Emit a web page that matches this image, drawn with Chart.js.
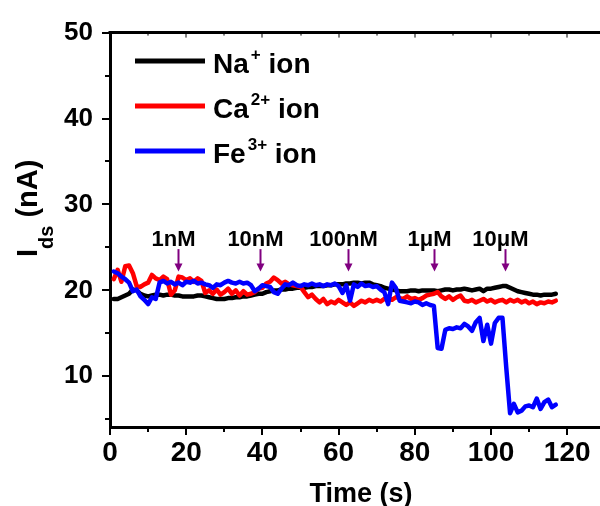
<!DOCTYPE html>
<html>
<head>
<meta charset="utf-8">
<script src="https://cdn.jsdelivr.net/npm/chart.js@4.4.0/dist/chart.umd.min.js"></script>
<style>
html, body { margin: 0; padding: 0; background: #fff; }
#wrap { width: 600px; height: 506px; }
</style>
</head>
<body>
<div id="wrap"><canvas id="ionChart" width="600" height="506"></canvas></div>
<script>
// time axis (s)
var TIME = [1,2,3,4,5,6,7,8,9,10,11,12,13,14,15,16,17,18,19,20,
  21,22,23,24,25,26,27,28,29,30,31,32,33,34,35,36,37,38,39,40,
  41,42,43,44,45,46,47,48,49,50,51,52,53,54,55,56,57,58,59,60,
  61,62,63,64,65,66,67,68,69,70,71,72,73,74,75,76,77,78,79,80,
  81,82,83,84,85,86,87,88,89,90,91,92,93,94,95,96,97,98,99,100,
  101,102,103,104,105,106,107,108,109,110,111,112,113,114,115,116,117];

// Ids (nA) for each ion
var NA_ION = [19.0,19.0,19.2,19.4,19.6,20.1,20.0,19.6,19.4,19.3,19.4,19.5,19.5,19.4,19.5,19.5,19.4,19.4,19.3,19.3,
  19.3,19.3,19.4,19.4,19.3,19.2,19.1,19.0,19.0,19.0,19.1,19.1,19.2,19.2,19.3,19.3,19.4,19.5,19.6,19.6,
  19.8,19.9,20.0,20.0,20.1,20.1,20.2,20.2,20.3,20.3,20.3,20.4,20.4,20.5,20.5,20.5,20.6,20.6,20.7,20.7,
  20.7,20.8,20.8,20.9,20.9,20.8,20.9,20.9,20.7,20.6,20.5,20.3,20.2,20.1,20.0,19.9,19.9,19.9,20.0,20.0,
  19.9,20.0,20.0,20.0,20.0,19.9,20.0,20.1,20.1,20.0,20.1,20.1,20.2,20.1,20.0,20.1,20.2,19.9,20.2,20.2,
  20.3,20.4,20.5,20.5,20.3,20.1,19.9,19.8,19.7,19.6,19.5,19.5,19.4,19.5,19.5,19.5,19.6];

var CA_ION = [21.3,22.4,21.0,22.8,22.9,22.0,20.5,20.4,20.7,20.9,21.8,21.4,21.2,21.6,21.3,19.5,20.0,21.6,21.5,21.2,
  21.4,21.0,21.4,21.1,19.7,20.0,19.6,20.1,19.5,19.8,20.2,19.6,20.0,19.4,19.9,19.5,19.6,19.8,20.2,20.3,
  20.8,21.0,21.5,21.2,20.8,21.0,20.7,20.6,20.5,20.4,19.8,19.2,19.5,19.0,18.6,19.0,18.4,18.7,18.5,18.9,
  18.6,18.3,18.6,18.2,18.5,18.8,18.6,18.9,18.7,18.9,18.7,19.0,19.1,18.9,19.2,19.1,19.0,19.3,19.0,19.1,
  18.9,19.1,19.4,19.5,19.6,19.8,19.3,19.0,19.3,18.9,19.2,19.4,18.8,18.7,18.9,18.6,18.8,19.0,18.7,18.9,
  18.6,18.8,18.9,18.6,18.9,18.7,18.9,18.6,18.8,18.5,18.7,18.4,18.6,18.5,18.7,18.6,18.8];

var FE_ION = [22.2,22.0,21.6,21.3,20.9,19.9,20.1,19.3,18.9,18.4,19.2,19.0,20.9,21.1,20.8,21.0,20.7,20.9,20.6,21.0,
  20.9,21.1,20.8,20.9,20.7,20.6,20.3,20.7,20.6,20.9,21.1,20.9,20.8,21.0,20.8,20.9,20.6,19.9,20.2,20.6,
  20.5,20.4,19.8,19.6,20.2,20.7,20.6,20.9,20.6,20.5,20.7,20.6,20.8,20.6,20.7,20.5,20.7,20.6,20.8,20.5,
  19.7,20.6,18.8,20.7,20.4,20.8,20.5,20.6,20.4,20.5,20.1,19.8,18.4,20.9,20.3,18.8,18.7,18.6,18.5,18.7,
  18.6,18.3,18.5,18.3,18.2,13.3,13.2,15.4,15.6,15.5,15.7,15.6,16.1,15.8,15.3,16.3,16.8,14.1,16.0,13.8,
  16.2,16.8,16.8,11.0,5.7,6.8,5.8,6.0,6.5,6.6,6.4,7.4,6.2,7.0,7.3,6.4,6.7];

var SERIES_NAMES = ['Na', 'Ca', 'Fe'];
var SERIES_CHARGE = ['+', '2+', '3+'];
var SERIES_COLORS = ['#000000', '#ff0000', '#0000ff'];

// concentration additions
var ADD_TIMES = [17.8, 39.4, 62.5, 85, 103.7];
var ADD_LABELS = ['1nM', '10nM', '100nM', '1\u03bcM', '10\u03bcM'];

var X_TICKS = [0, 20, 40, 60, 80, 100, 120];
var Y_TICKS = [10, 20, 30, 40, 50];

var FONT = "'Liberation Sans', Arial, sans-serif";

function toPoints(vals)
{
  var pts = [];
  for (var i = 0; i < vals.length; i++) {
    pts.push({x: TIME[i], y: vals[i]});
  }
  return pts;
}

function seg(ctx, x1, y1, x2, y2)
{
  ctx.beginPath();
  ctx.moveTo(x1, y1);
  ctx.lineTo(x2, y2);
  ctx.stroke();
}

var extrasPlugin = {
  id: 'extras',
  afterDraw: function(chart) {
    var ctx = chart.ctx;
    var xs = chart.scales.x, ys = chart.scales.y;
    var area = chart.chartArea;
    var i, v, px, py;
    ctx.save();
    ctx.strokeStyle = '#000';
    ctx.fillStyle = '#000';

    // top frame line
    ctx.lineWidth = 3;
    seg(ctx, area.left - 1.5, area.top, area.right, area.top);

    // tick marks
    ctx.lineWidth = 2;
    for (v = 0; v <= 120; v += 10) {
      px = Math.round(xs.getPixelForValue(v));
      var big = (v % 20 === 0);
      seg(ctx, px, area.bottom, px, area.bottom + (big ? 8 : 5));
      ctx.lineWidth = 1;
      seg(ctx, px, area.top, px, area.top + (big ? 5 : 3));
      ctx.lineWidth = 2;
    }
    for (v = 5; v <= 50; v += 5) {
      py = Math.round(ys.getPixelForValue(v));
      seg(ctx, area.left, py, area.left - (v % 10 === 0 ? 8 : 5), py);
    }

    // x title
    ctx.font = 'bold 27px ' + FONT;
    ctx.textAlign = 'center';
    ctx.textBaseline = 'alphabetic';
    ctx.fillText('Time (s)', 361, 502);

    // y title with subscript
    ctx.save();
    ctx.translate(37, 257);
    ctx.rotate(-Math.PI / 2);
    ctx.textAlign = 'left';
    ctx.font = 'bold 29px ' + FONT;
    ctx.fillText('I', 0, 0);
    var wI = ctx.measureText('I').width;
    ctx.font = 'bold 20px ' + FONT;
    ctx.fillText('ds', wI, 16);
    var wds = ctx.measureText('ds').width;
    ctx.font = 'bold 29px ' + FONT;
    ctx.fillText(' (nA)', wI + wds, 0);
    ctx.restore();

    // legend
    for (i = 0; i < SERIES_NAMES.length; i++) {
      var base = 73 + i * 45;
      ctx.strokeStyle = SERIES_COLORS[i];
      ctx.lineWidth = 5;
      seg(ctx, 135, base - 12, 205, base - 12);
      ctx.fillStyle = '#000';
      ctx.textAlign = 'left';
      ctx.font = 'bold 28px ' + FONT;
      ctx.fillText(SERIES_NAMES[i], 213, base);
      var wn = ctx.measureText(SERIES_NAMES[i]).width;
      ctx.font = 'bold 17px ' + FONT;
      ctx.fillText(SERIES_CHARGE[i], 213 + wn + 2, base - 13);
      var wc = ctx.measureText(SERIES_CHARGE[i]).width;
      ctx.font = 'bold 28px ' + FONT;
      ctx.fillText(' ion', 213 + wn + 2 + wc, base);
    }

    // arrows and concentration labels
    var purple = '#800080';
    var yTop = ys.getPixelForValue(24.8);
    var yTip = ys.getPixelForValue(22.2);
    for (i = 0; i < ADD_TIMES.length; i++) {
      px = Math.round(xs.getPixelForValue(ADD_TIMES[i])) + 0.5;
      ctx.strokeStyle = purple;
      ctx.fillStyle = purple;
      ctx.lineWidth = 2;
      seg(ctx, px, yTop, px, yTip - 6);
      ctx.beginPath();
      ctx.moveTo(px - 4, yTip - 8);
      ctx.lineTo(px + 4, yTip - 8);
      ctx.lineTo(px, yTip);
      ctx.closePath();
      ctx.fill();
      ctx.fillStyle = '#000';
      ctx.textAlign = 'center';
      ctx.font = 'bold 22px ' + FONT;
      ctx.fillText(ADD_LABELS[i], px - 5, 246);
    }
    ctx.restore();
  }
};

var ctx = document.getElementById('ionChart');
var ionChart = new Chart(ctx, {
  type: 'line',
  data: {
    datasets: [
      { label: 'Na+ ion', data: toPoints(NA_ION), borderColor: SERIES_COLORS[0], order: 2 },
      { label: 'Ca2+ ion', data: toPoints(CA_ION), borderColor: SERIES_COLORS[1], order: 1 },
      { label: 'Fe3+ ion', data: toPoints(FE_ION), borderColor: SERIES_COLORS[2], order: 0 }
    ]
  },
  options: {
    responsive: false,
    animation: false,
    devicePixelRatio: 1,
    layout: { padding: { top: 29, right: 0, left: 0, bottom: 0 } },
    plugins: { legend: { display: false }, tooltip: { enabled: false } },
    elements: {
      point: { radius: 0 },
      line: { borderWidth: 4.5, tension: 0, borderJoinStyle: 'round', borderCapStyle: 'round' }
    },
    scales: {
      x: {
        type: 'linear', min: 0, max: 128.6,
        afterBuildTicks: function(s) { s.ticks = X_TICKS.map(function(v) { return {value: v}; }); },
        afterFit: function(s) { s.height = 79; },
        grid: { display: false, drawTicks: false },
        border: { display: true, color: '#000', width: 3 },
        ticks: { color: '#000', padding: 9, maxRotation: 0, font: { family: FONT, size: 28, weight: 'bold' } }
      },
      y: {
        type: 'linear', min: 4.1, max: 50,
        afterBuildTicks: function(s) { s.ticks = Y_TICKS.map(function(v) { return {value: v}; }); },
        afterFit: function(s) { s.width = 110; },
        grid: { display: false, drawTicks: false },
        border: { display: true, color: '#000', width: 3 },
        ticks: { color: '#000', padding: 17, font: { family: FONT, size: 26, weight: 'bold' } }
      }
    }
  },
  plugins: [extrasPlugin]
});
</script>
</body>
</html>
